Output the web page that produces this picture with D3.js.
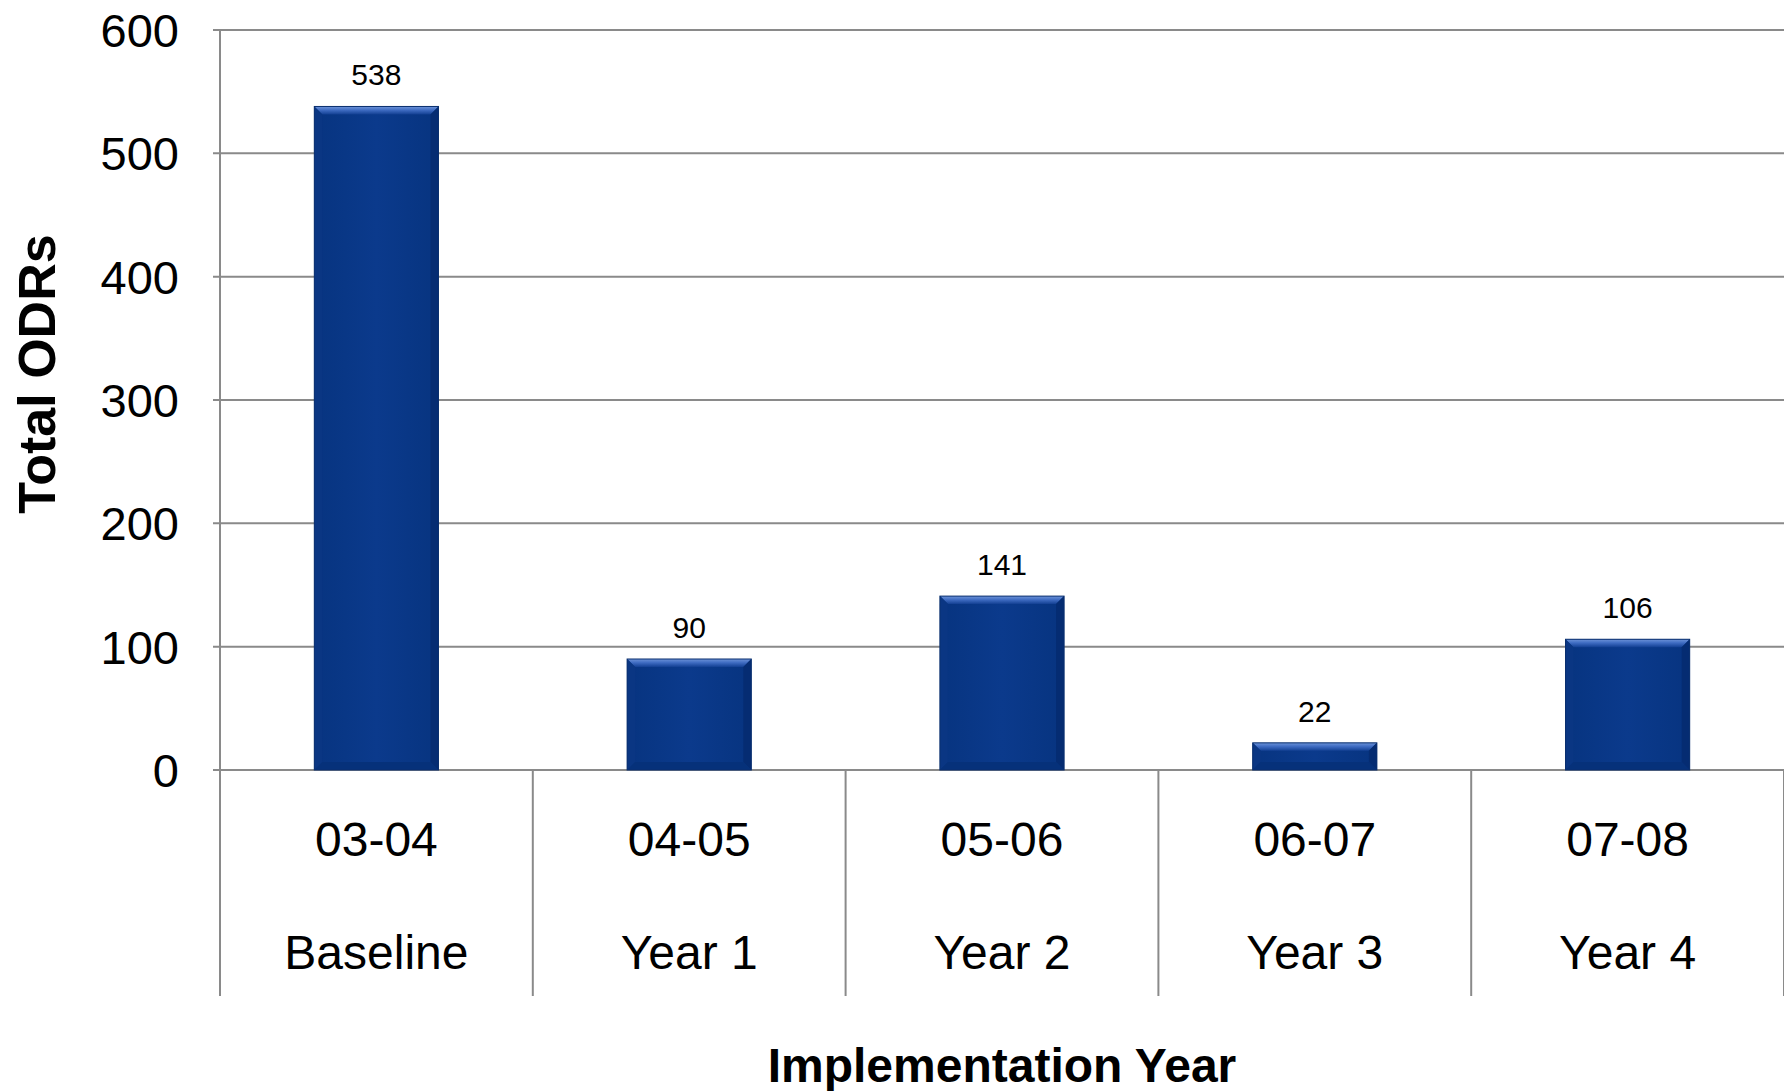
<!DOCTYPE html>
<html>
<head>
<meta charset="utf-8">
<script src="https://cdn.jsdelivr.net/npm/d3@7"></script>
<style>
  html, body { margin: 0; padding: 0; background: #fff; }
  svg { display: block; }
  text { font-family: "Liberation Sans", Arial, sans-serif; fill: #000; }
</style>
</head>
<body>
<svg id="chart" width="1784" height="1091"></svg>
<script>
// School years and their implementation phase
const categories = ["03-04", "04-05", "05-06", "06-07", "07-08"];
const phases = ["Baseline", "Year 1", "Year 2", "Year 3", "Year 4"];
// Total office discipline referrals per year
const odrs = [538, 90, 141, 22, 106];
const yTicks = [0, 100, 200, 300, 400, 500, 600];

const W = 1784, H = 1091;
const plot = { left: 220, right: 1784, top: 30, bottom: 770, tableBottom: 996 };

const svg = d3.select("#chart");

const x = d3.scaleBand().domain(categories).range([plot.left, plot.right]).padding(0);
const y = d3.scaleLinear().domain([0, 600]).range([plot.bottom, plot.top]);

const grid = "#8a8a8a";

// bar bevel gradients
const defs = svg.append("defs");
const topGrad = defs.append("linearGradient").attr("id", "bevelTop").attr("x1", 0).attr("y1", 0).attr("x2", 0).attr("y2", 1);
topGrad.append("stop").attr("offset", "0%").attr("stop-color", "#6d93d8");
topGrad.append("stop").attr("offset", "45%").attr("stop-color", "#3f6cc2");
topGrad.append("stop").attr("offset", "100%").attr("stop-color", "#123f92");
const bodyGrad = defs.append("linearGradient").attr("id", "barBody").attr("x1", 0).attr("y1", 0).attr("x2", 1).attr("y2", 0);
bodyGrad.append("stop").attr("offset", "0%").attr("stop-color", "#073480");
bodyGrad.append("stop").attr("offset", "50%").attr("stop-color", "#0b3a8c");
bodyGrad.append("stop").attr("offset", "100%").attr("stop-color", "#073480");

// horizontal gridlines and left ticks
svg.append("g").selectAll("line").data(yTicks).join("line")
  .attr("x1", plot.left - 7).attr("x2", plot.right)
  .attr("y1", d => y(d)).attr("y2", d => y(d))
  .attr("stroke", grid).attr("stroke-width", 2);

// left axis line running down through the category table
svg.append("line")
  .attr("x1", plot.left).attr("x2", plot.left)
  .attr("y1", plot.top).attr("y2", plot.tableBottom)
  .attr("stroke", grid).attr("stroke-width", 2);

// category table dividers
const edges = categories.map(c => x(c) + x.bandwidth());
svg.append("g").selectAll("line").data(edges).join("line")
  .attr("x1", d => d).attr("x2", d => d)
  .attr("y1", plot.bottom).attr("y2", plot.tableBottom)
  .attr("stroke", grid).attr("stroke-width", 2);

// y tick labels
svg.append("g").selectAll("text").data(yTicks).join("text")
  .attr("x", 179).attr("y", d => y(d)).attr("dy", "0.36em")
  .attr("text-anchor", "end").attr("font-size", 47)
  .text(d => d);

// bars
const barW = x.bandwidth() * 0.397;
const bev = 8;
const bars = svg.append("g").selectAll("g").data(odrs).join("g")
  .attr("transform", (d, i) => `translate(${x(categories[i]) + (x.bandwidth() - barW) / 2},${y(d)})`);

bars.append("rect")
  .attr("width", barW).attr("height", d => y(0) - y(d))
  .attr("fill", "url(#barBody)");
bars.append("polygon")
  .attr("points", `0,0 ${barW},0 ${barW - bev},${bev} ${bev},${bev}`)
  .attr("fill", "url(#bevelTop)");
bars.append("polygon")
  .attr("points", d => { const h = y(0) - y(d); return `0,0 ${bev},${bev} ${bev},${h - bev} 0,${h}`; })
  .attr("fill", "#0a3683");
bars.append("polygon")
  .attr("points", d => { const h = y(0) - y(d); return `${barW},0 ${barW - bev},${bev} ${barW - bev},${h - bev} ${barW},${h}`; })
  .attr("fill", "#052c72");
bars.append("polygon")
  .attr("points", d => { const h = y(0) - y(d); return `0,${h} ${bev},${h - bev} ${barW - bev},${h - bev} ${barW},${h}`; })
  .attr("fill", "#06317a");
bars.append("rect")
  .attr("width", barW).attr("height", d => y(0) - y(d))
  .attr("fill", "none").attr("stroke", "#0a2f6e").attr("stroke-width", 1);

// value labels
svg.append("g").selectAll("text").data(odrs).join("text")
  .attr("x", (d, i) => x(categories[i]) + x.bandwidth() / 2)
  .attr("y", d => y(d) - 21)
  .attr("text-anchor", "middle").attr("font-size", 30)
  .text(d => d);

// category labels: school year, then phase
svg.append("g").selectAll("text").data(categories).join("text")
  .attr("x", d => x(d) + x.bandwidth() / 2).attr("y", 856)
  .attr("text-anchor", "middle").attr("font-size", 48)
  .text(d => d);
svg.append("g").selectAll("text").data(phases).join("text")
  .attr("x", (d, i) => x(categories[i]) + x.bandwidth() / 2).attr("y", 969)
  .attr("text-anchor", "middle").attr("font-size", 48)
  .text(d => d);

// axis titles
svg.append("text")
  .attr("transform", `translate(55,${(plot.top + plot.bottom) / 2 - 26}) rotate(-90)`)
  .attr("text-anchor", "middle").attr("font-size", 52).attr("font-weight", "bold")
  .text("Total ODRs");
svg.append("text")
  .attr("x", (plot.left + plot.right) / 2).attr("y", 1082)
  .attr("text-anchor", "middle").attr("font-size", 48).attr("font-weight", "bold")
  .text("Implementation Year");
</script>
</body>
</html>
